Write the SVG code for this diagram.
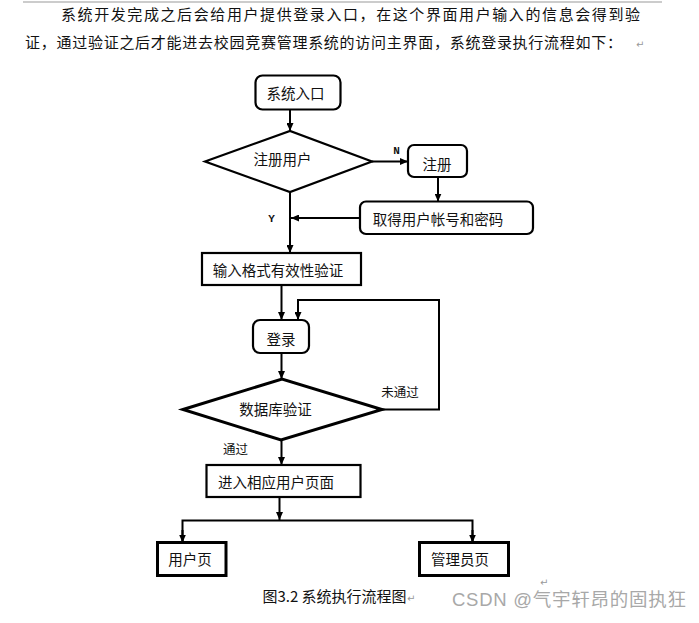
<svg xmlns="http://www.w3.org/2000/svg" width="699" height="623" viewBox="0 0 699 623">
<style>
.bg{fill:#ffffff}
.node{fill:#ffffff;stroke:#000;stroke-width:2.2}
.thick{stroke-width:3}
.lbl{font-family:"Noto Sans CJK SC","Liberation Sans",sans-serif;font-size:14.5px;fill:#111;text-anchor:middle}
.small{font-family:"Noto Sans CJK SC","Liberation Sans",sans-serif;font-size:12.5px;fill:#111;text-anchor:middle}
.yn{font-family:"Liberation Mono",monospace;font-size:11px;font-weight:bold;fill:#111;text-anchor:middle}
.para{font-family:"Noto Sans CJK SC","Liberation Sans",sans-serif;font-size:15px;fill:#111}
.mark{font-family:"DejaVu Sans",sans-serif;font-size:10px;fill:#999}
.conn{fill:none;stroke:#000;stroke-width:2}
</style>
<defs>
<marker id="ah" markerWidth="8" markerHeight="7" refX="8" refY="3.5" orient="auto" markerUnits="userSpaceOnUse">
<path d="M0,0 L8,3.5 L0,7 z" fill="#000"/>
</marker>
</defs>
<rect class="bg" x="0" y="0" width="699" height="623"/>
<line x1="23" y1="2" x2="662" y2="2" stroke="#999" stroke-width="1"/>
<text class="para" x="61" y="19.5" textLength="579" lengthAdjust="spacing">系统开发完成之后会给用户提供登录入口，在这个界面用户输入的信息会得到验</text>
<text class="para" x="25" y="48" textLength="597" lengthAdjust="spacing">证，通过验证之后才能进去校园竞赛管理系统的访问主界面，系统登录执行流程如下：</text>
<text class="mark" x="636" y="48">↵</text>

<g id="connectors">
<line class="conn" x1="290" y1="110" x2="290" y2="131" marker-end="url(#ah)"/>
<line class="conn" x1="372" y1="161.5" x2="408" y2="161.5" marker-end="url(#ah)"/>
<line class="conn" x1="438" y1="177" x2="438" y2="201.5" marker-end="url(#ah)"/>
<line class="conn" x1="360" y1="218" x2="291" y2="218" marker-end="url(#ah)"/>
<line class="conn" x1="290" y1="192" x2="290" y2="253" marker-end="url(#ah)"/>
<line class="conn" x1="281.5" y1="285" x2="281.5" y2="320" marker-end="url(#ah)"/>
<line class="conn" x1="281.5" y1="353" x2="281.5" y2="379" marker-end="url(#ah)"/>
<polyline class="conn" points="382,409.5 439,409.5 439,300 298,300 298,320" marker-end="url(#ah)"/>
<line class="conn" x1="281.5" y1="440" x2="281.5" y2="465" marker-end="url(#ah)"/>
<line class="conn" x1="279.5" y1="497" x2="279.5" y2="520" marker-end="url(#ah)"/>
<polyline class="conn" points="182.5,542.5 182.5,520.5 472.5,520.5 472.5,542.5" stroke-linejoin="miter"/>
<line class="conn" x1="182.5" y1="530" x2="182.5" y2="542.5" marker-end="url(#ah)"/>
<line class="conn" x1="472.5" y1="530" x2="472.5" y2="542.5" marker-end="url(#ah)"/>
<text class="yn" x="396.5" y="154">N</text>
<text class="yn" x="271.5" y="222">Y</text>
<text class="small" x="400" y="397">未通过</text>
<text class="small" x="235.5" y="453.5">通过</text>
</g>

<g id="n-entry">
<rect class="node" x="255.5" y="75.5" width="85" height="34" rx="7"/>
<text class="lbl" x="295.5" y="99">系统入口</text>
</g>
<g id="n-reguser">
<polygon class="node" points="205,161.5 290,131 372,161.5 290,192"/>
<text class="lbl" x="282.5" y="164.5">注册用户</text>
</g>
<g id="n-register">
<rect class="node" x="408" y="145" width="59" height="32" rx="6"/>
<text class="lbl" x="437" y="170">注册</text>
</g>
<g id="n-getacct">
<rect class="node" x="360" y="201.5" width="173" height="32.5" rx="6"/>
<text class="lbl" x="438" y="225">取得用户帐号和密码</text>
</g>
<g id="n-format">
<rect class="node" x="202" y="253" width="159" height="32"/>
<text class="lbl" x="278" y="276">输入格式有效性验证</text>
</g>
<g id="n-login">
<rect class="node" x="253" y="320" width="56" height="33" rx="7"/>
<text class="lbl" x="281" y="344.5">登录</text>
</g>
<g id="n-dbcheck">
<polygon class="node thick" points="183,409.5 282,379 382,409.5 281,440"/>
<text class="lbl" x="275.5" y="415">数据库验证</text>
</g>
<g id="n-enter">
<rect class="node" x="206.5" y="465" width="154" height="32"/>
<text class="lbl" x="276" y="488">进入相应用户页面</text>
</g>
<g id="n-userpage">
<rect class="node thick" x="157.5" y="542.5" width="68.5" height="33"/>
<text class="lbl" x="190" y="565">用户页</text>
</g>
<g id="n-adminpage">
<rect class="node thick" x="419.5" y="542.5" width="89" height="33"/>
<text class="lbl" x="460" y="565">管理员页</text>
</g>

<text class="mark" x="540" y="586" font-size="9">↵</text>
<text class="para" x="262.5" y="602" font-size="13.5" textLength="144" lengthAdjust="spacing">图3.2 系统执行流程图</text>
<text class="mark" x="407" y="602">↵</text>
<text x="452" y="606" font-family="Liberation Sans,Noto Sans CJK SC,sans-serif" font-size="18.5" fill="#a8a8a8" textLength="234" lengthAdjust="spacing">CSDN @气宇轩昂的固执狂</text>
</svg>
